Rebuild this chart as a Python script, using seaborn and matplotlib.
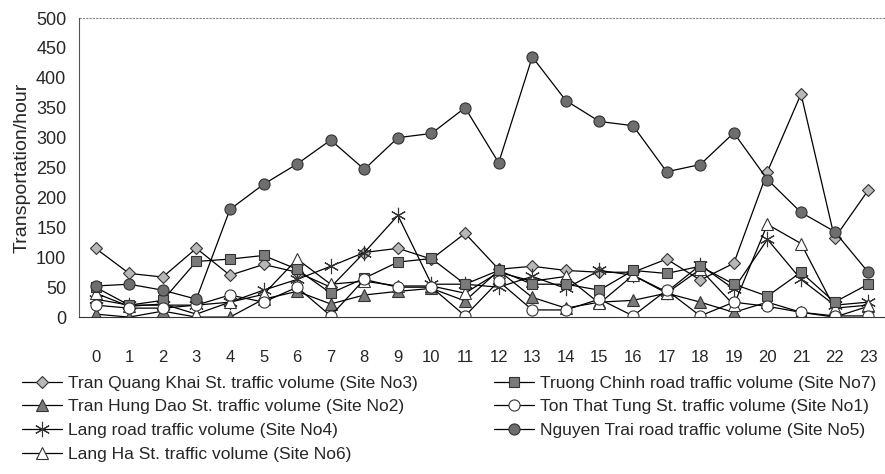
import numpy as np
import pandas as pd
import seaborn as sns
import matplotlib.pyplot as plt

hours = list(range(24))

tran_quang_khai = [115, 73, 67, 115, 70, 88, 75, 50, 108, 115, 97, 140, 80, 85, 78, 75,
                   75, 97, 62, 90, 243, 373, 132, 212]
tran_hung_dao = [5, 0, 10, 0, 0, 30, 43, 22, 37, 43, 48, 27, 78, 33, 15, 25,
                 28, 40, 25, 8, 25, 8, 0, 18]
lang_road = [30, 20, 20, 20, 25, 45, 63, 85, 108, 170, 55, 55, 50, 68, 48, 78,
             70, 42, 87, 47, 130, 63, 20, 25]
lang_ha = [40, 18, 22, 5, 25, 38, 97, 55, 60, 52, 52, 40, 75, 60, 68, 23,
           70, 40, 80, 20, 155, 123, 15, 20]
truong_chinh = [50, 20, 28, 93, 97, 103, 80, 40, 65, 92, 98, 55, 78, 55, 55, 45,
                78, 73, 85, 55, 35, 75, 25, 55]
ton_that_tung = [20, 15, 15, 20, 37, 25, 50, 2, 63, 50, 50, 2, 60, 12, 12, 30,
                 2, 45, 2, 25, 18, 8, 2, 2]
nguyen_trai = [52, 55, 45, 30, 180, 222, 256, 296, 247, 300, 307, 350, 258, 435, 362, 327,
               320, 243, 255, 308, 230, 175, 143, 75]

labels = [
    "Tran Quang Khai St. traffic volume (Site No3)",
    "Tran Hung Dao St. traffic volume (Site No2)",
    "Lang road traffic volume (Site No4)",
    "Lang Ha St. traffic volume (Site No6)",
    "Truong Chinh road traffic volume (Site No7)",
    "Ton That Tung St. traffic volume (Site No1)",
    "Nguyen Trai road traffic volume (Site No5)",
]
series = [tran_quang_khai, tran_hung_dao, lang_road, lang_ha,
          truong_chinh, ton_that_tung, nguyen_trai]

# marker, face colour, size
styles = [
    ("D", "#b8b8b8", 6.5),
    ("^", "#7a7a7a", 8),
    ((6, 2, 0), "black", 11),
    ("^", "white", 8),
    ("s", "#7a7a7a", 7.5),
    ("o", "white", 8),
    ("o", "#6e6e6e", 8),
]

sns.set_style("white")
plt.rcParams['font.family'] = ['Liberation Sans', 'DejaVu Sans']

fig, ax = plt.subplots(figsize=(8.85, 4.74), dpi=100)
fig.subplots_adjust(left=0.089, right=1.0, top=0.962, bottom=0.331)

for lab, vals, (mk, fc, ms) in zip(labels, series, styles):
    df = pd.DataFrame({"hour": hours, "value": vals})
    sns.lineplot(data=df, x="hour", y="value", ax=ax, color="black", lw=0.9,
                 marker=mk, markersize=ms, markerfacecolor=fc,
                 markeredgecolor="#333333", markeredgewidth=0.8, label=lab)

ax.set_xlim(-0.5, 23.5)
ax.set_ylim(0, 500)
ax.set_yticks(range(0, 501, 50))
ax.set_xticks(hours)
ax.set_xticks(np.arange(-0.5, 24, 1), minor=True)
ax.tick_params(axis="x", which="major", length=0, labelsize=12, pad=24)
ax.tick_params(axis="x", which="minor", length=5, direction="out", color="#333333")
ax.tick_params(axis="y", length=4, direction="out", labelsize=13, color="#333333", pad=5)
ax.set_xlabel("")
ax.set_ylabel("Transportation/hour", fontsize=14, labelpad=4)

for side in ["right", "bottom", "left", "top"]:
    ax.spines[side].set_visible(False)
ax.spines["left"].set_visible(True)
ax.spines["left"].set_color("#555555")
ax.spines["bottom"].set_visible(True)
ax.spines["bottom"].set_color("#333333")
ax.axhline(500, color="#888888", lw=0.8, ls=(0, (2, 1)), clip_on=False)

ax.legend(loc="upper left", bbox_to_anchor=(-0.071, -0.195), ncol=2, frameon=False,
          fontsize=12.5, handlelength=2.35, columnspacing=4.4, labelspacing=0.5,
          handletextpad=0.3, borderaxespad=0, borderpad=0)

plt.savefig("out.png", dpi=100)
